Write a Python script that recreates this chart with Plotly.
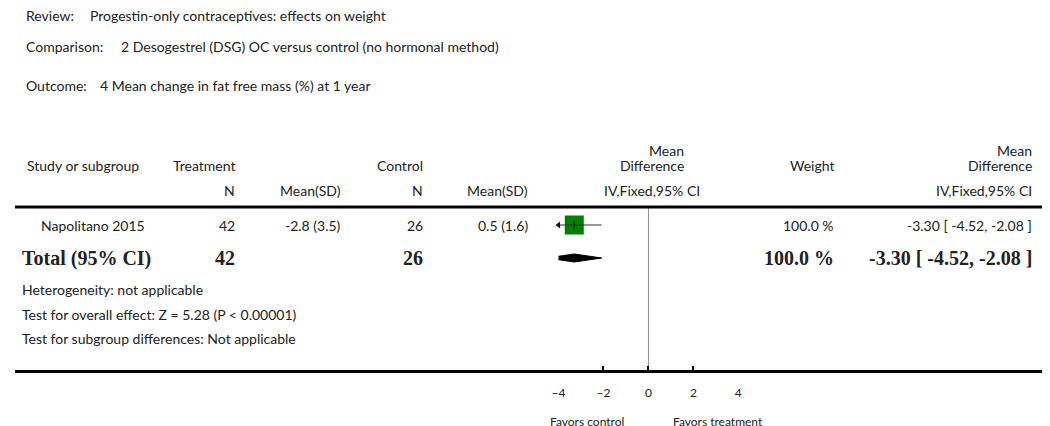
import plotly.graph_objects as go

# ---- data ----
review = "Progestin-only contraceptives: effects on weight"
comparison = "2 Desogestrel (DSG) OC versus control (no hormonal method)"
outcome = "4 Mean change in fat free mass (%) at 1 year"

studies = ["Napolitano 2015"]
treat_n = [42]
treat_mean = [-2.8]
treat_sd = [3.5]
ctrl_n = [26]
ctrl_mean = [0.5]
ctrl_sd = [1.6]
md = [-3.30]
ci_lo = [-4.52]
ci_hi = [-2.08]
weight = [100.0]

total_md = -3.30
total_lo = -4.52
total_hi = -2.08
total_weight = 100.0

tick_vals = [-4, -2, 0, 2, 4]
x_min, x_max = -4, 4

heterogeneity = "Heterogeneity: not applicable"
overall = "Test for overall effect: Z = 5.28 (P < 0.00001)"
subgroup = "Test for subgroup differences: Not applicable"

# ---- layout helpers ----
W, H = 1050, 426
OFF = 8  # page body margin, positions below are given in page pixels
FONT = "Lato"
SERIF = "Liberation Serif"
TXT = "#222222"


def px(x):
    return (x - OFF) / W


def py(y):
    return max(y - OFF, 7)


annotations = []


def add_text(x, y, text, anchor="left", size=14, family=FONT, bold=False):
    if bold:
        text = "<b>" + text + "</b>"
    annotations.append(dict(x=px(x), y=py(y), xref="paper", yref="y", text=text,
                            showarrow=False, xanchor=anchor, yanchor="middle",
                            font=dict(family=family, size=size, color=TXT)))


# header block
add_text(17, 8, "Review:")
add_text(82, 8, review)
add_text(17, 46, "Comparison:")
add_text(113, 46, comparison)
add_text(17, 85, "Outcome:")
add_text(92, 85, outcome)

# column headers
add_text(18, 165, "Study or subgroup")
add_text(232, 165, "Treatment", "right")
add_text(232, 190, "N", "right")
add_text(339, 190, "Mean(SD)", "right")
add_text(422, 165, "Control", "right")
add_text(422, 190, "N", "right")
add_text(528, 190, "Mean(SD)", "right")
add_text(686, 150, "Mean", "right")
add_text(686, 165, "Difference", "right")
add_text(702, 190, "IV,Fixed,95% CI", "right")
add_text(838, 165, "Weight", "right")
add_text(1038, 150, "Mean", "right")
add_text(1038, 165, "Difference", "right")
add_text(1038, 190, "IV,Fixed,95% CI", "right")

# study rows
row_y = [225 + 32 * i for i in range(len(studies))]
for i, s in enumerate(studies):
    y = row_y[i]
    add_text(32, y, s)
    add_text(232, y, str(treat_n[i]), "right")
    add_text(339, y, f"{treat_mean[i]} ({treat_sd[i]})", "right")
    add_text(422, y, str(ctrl_n[i]), "right")
    add_text(528, y, f"{ctrl_mean[i]} ({ctrl_sd[i]})", "right")
    add_text(838, y, f"{weight[i]:.1f} %", "right")
    add_text(1038, y, f"{md[i]:.2f} [ {ci_lo[i]:.2f}, {ci_hi[i]:.2f} ]", "right")

total_y = 258
BIG = 20
add_text(13, total_y, "Total (95% CI)", size=BIG, family=SERIF, bold=True)
add_text(232, total_y, str(sum(treat_n)), "right", size=BIG, family=SERIF, bold=True)
add_text(422, total_y, str(sum(ctrl_n)), "right", size=BIG, family=SERIF, bold=True)
add_text(838, total_y, f"{total_weight:.1f} %", "right", size=BIG, family=SERIF, bold=True)
add_text(1038, total_y, f"{total_md:.2f} [ {total_lo:.2f}, {total_hi:.2f} ]", "right",
         size=BIG, family=SERIF, bold=True)

add_text(13, 289, heterogeneity)
add_text(13, 314, overall)
add_text(13, 338, subgroup)

# favours labels under the axis
for lab, xv, anc in [("Favors control", -1, "right"), ("Favors treatment", 1, "left")]:
    annotations.append(dict(x=xv, y=py(421), xref="x", yref="y", text=lab,
                            showarrow=False, xanchor=anc, yanchor="middle",
                            font=dict(family=FONT, size=12, color=TXT)))

fig = go.Figure()

# study estimates: square, CI line (clipped to axis, arrow if clipped), centre tick
for i in range(len(studies)):
    y = py(row_y[i])
    lo = max(ci_lo[i], x_min)
    hi = min(ci_hi[i], x_max)
    fig.add_trace(go.Scatter(x=[md[i]], y=[y], mode="markers",
                             marker=dict(symbol="square", size=19, color="#008000"),
                             hoverinfo="skip", showlegend=False))
    fig.add_trace(go.Scatter(x=[lo, hi], y=[y, y], mode="lines",
                             line=dict(color="#333333", width=1),
                             hoverinfo="skip", showlegend=False))
    fig.add_trace(go.Scatter(x=[md[i]], y=[y], mode="markers",
                             marker=dict(symbol="line-ns", size=6,
                                         line=dict(color="#222222", width=1)),
                             hoverinfo="skip", showlegend=False))
    if ci_lo[i] < x_min:
        fig.add_trace(go.Scatter(x=[x_min], y=[y], mode="markers",
                                 marker=dict(symbol="triangle-left", size=6, color="#111111"),
                                 cliponaxis=False, hoverinfo="skip", showlegend=False))

# pooled diamond
ty = py(total_y)
fig.add_trace(go.Scatter(x=[total_lo, total_md, total_hi, total_md, total_lo],
                         y=[ty, ty - 4, ty, ty + 4, ty],
                         mode="lines", fill="toself", fillcolor="black",
                         line=dict(color="black", width=1),
                         hoverinfo="skip", showlegend=False))

header_rule = py(207)
bottom_rule = py(371.5)
shapes = [
    dict(type="line", xref="paper", yref="y", x0=0, x1=1, y0=header_rule, y1=header_rule,
         line=dict(color="black", width=3)),
    dict(type="line", xref="paper", yref="y", x0=0, x1=1, y0=bottom_rule, y1=bottom_rule,
         line=dict(color="black", width=3)),
    # line of no effect
    dict(type="line", xref="x", yref="y", x0=0, x1=0, y0=header_rule, y1=bottom_rule - 2,
         line=dict(color="#8a8a8a", width=1), layer="below"),
]

plot_left, plot_right = 557.3, 739.0
fig.update_layout(
    width=W, height=H,
    margin=dict(l=0, r=0, t=0, b=0),
    paper_bgcolor="white", plot_bgcolor="rgba(0,0,0,0)",
    annotations=annotations,
    shapes=shapes,
    xaxis=dict(domain=[px(plot_left), px(plot_right)], range=[x_min, x_max],
               tickvals=tick_vals, ticks="inside", ticklen=6, tickwidth=2,
               tickcolor="black", showgrid=False, zeroline=False, showline=False,
               anchor="free", position=1 - bottom_rule / H, ticklabelstandoff=12,
               tickfont=dict(family=FONT, size=12, color=TXT)),
    yaxis=dict(domain=[0, 1], range=[H, 0], visible=False, showgrid=False),
)

fig.write_html("out.html")
